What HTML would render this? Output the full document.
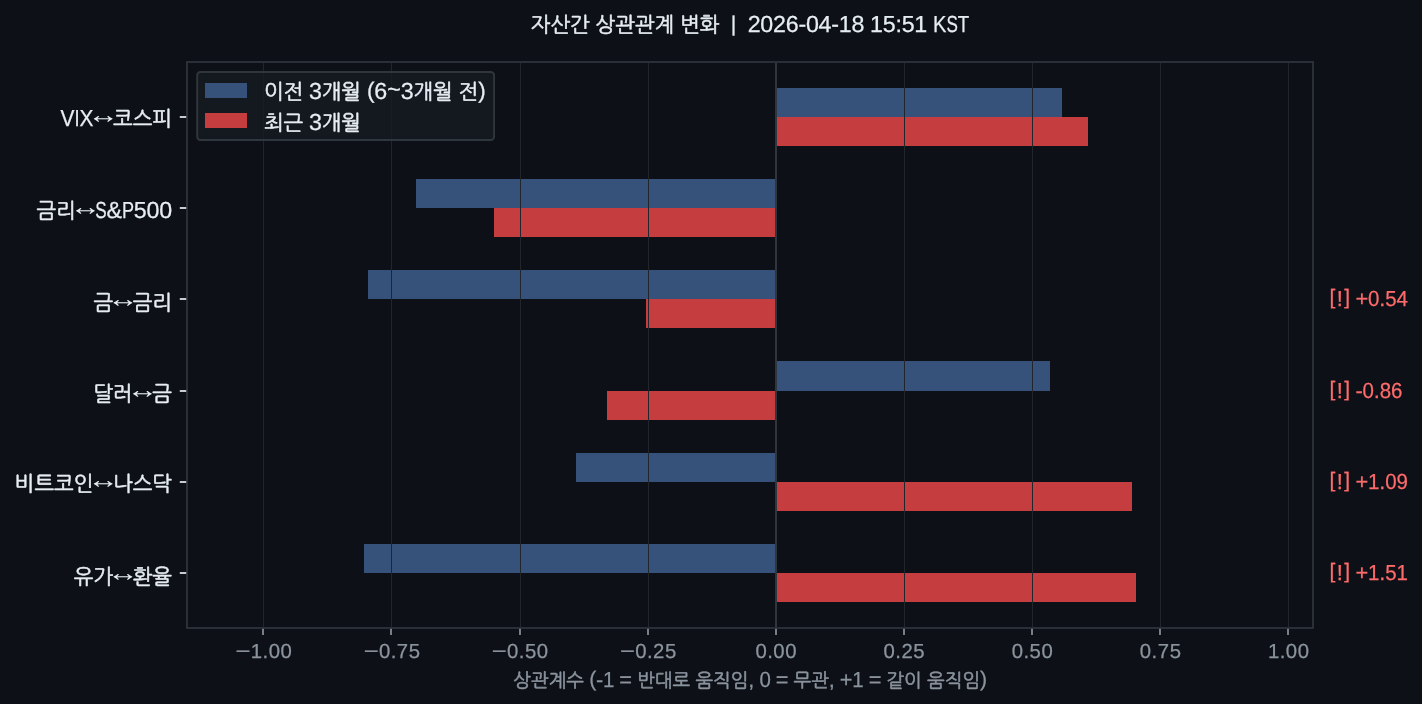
<!DOCTYPE html>
<html lang="ko">
<head>
<meta charset="utf-8">
<title>자산간 상관관계 변화</title>
<style>
html,body{margin:0;padding:0;background:#0d1117;overflow:hidden}
svg{display:block}
text{white-space:pre}
.h{stroke:currentColor;stroke-width:0.55px}
.a{text-rendering:geometricPrecision}
.t{stroke:currentColor;stroke-width:0.25px;text-rendering:geometricPrecision}
.k{font-family:"Liberation Sans", "NanumGothic", sans-serif}
.l{font-family:"Liberation Sans", "DejaVu Sans", sans-serif}
</style>
</head>
<body>
<svg width="1422" height="704" viewBox="0 0 1422 704">
<rect width="1422" height="704" fill="#0d1117"/>
<g>
<rect x="776" y="88" width="286" height="29" fill="#36527a"/>
<rect x="776" y="117" width="312" height="29" fill="#c53d3f"/>
<rect x="416" y="179" width="360" height="29" fill="#36527a"/>
<rect x="494" y="208" width="282" height="29" fill="#c53d3f"/>
<rect x="368" y="270" width="408" height="29" fill="#36527a"/>
<rect x="646" y="299" width="130" height="29" fill="#c53d3f"/>
<rect x="776" y="361" width="274" height="30" fill="#36527a"/>
<rect x="607" y="391" width="169" height="29" fill="#c53d3f"/>
<rect x="576" y="453" width="200" height="29" fill="#36527a"/>
<rect x="776" y="482" width="356" height="29" fill="#c53d3f"/>
<rect x="364" y="544" width="412" height="29" fill="#36527a"/>
<rect x="776" y="573" width="360" height="29" fill="#c53d3f"/>
</g>
<g fill="#21262d">
<rect x="263" y="63" width="1" height="564"/>
<rect x="391" y="63" width="1" height="564"/>
<rect x="520" y="63" width="1" height="564"/>
<rect x="648" y="63" width="1" height="564"/>
<rect x="904" y="63" width="1" height="564"/>
<rect x="1032" y="63" width="1" height="564"/>
<rect x="1160" y="63" width="1" height="564"/>
<rect x="1288" y="63" width="1" height="564"/>
</g>
<rect x="775" y="63" width="2" height="564" fill="#30363d"/>
<rect x="197.2" y="72" width="296.85" height="68.05" rx="3.2" fill="#161b22" fill-opacity="0.8" stroke="#30363d" stroke-width="1.9"/>
<rect x="205" y="83" width="42" height="15" fill="#36527a"/>
<rect x="205" y="113" width="42" height="15" fill="#c53d3f"/>
<text class="k" y="99" font-size="20.9" fill="#e6edf3" color="#e6edf3"><tspan class="h" x="263.9 283.55" y="99">이전</tspan> <tspan class="t" x="308.91" y="99" font-size="23.25">3</tspan><tspan class="h" x="321.71 341.36" y="99">개월</tspan> <tspan class="t" x="366.89" y="97.54" font-size="22.55">(</tspan><tspan class="t" x="374.31" y="99" font-size="23.25">6</tspan><tspan class="t" x="387.15" y="96.7" font-size="23.25">~</tspan><tspan class="t" x="400.64" y="99" font-size="23.25">3</tspan><tspan class="h" x="413.44 433.09" y="99">개월</tspan> <tspan class="h" x="458.58" y="99">전</tspan><tspan class="t" x="478.27" y="97.54" font-size="22.55">)</tspan></text>
<text class="k" y="130" font-size="20.9" fill="#e6edf3" color="#e6edf3"><tspan class="h" x="263.9 283.55" y="130">최근</tspan> <tspan class="t" x="308.91" y="130" font-size="23.25">3</tspan><tspan class="h" x="321.71 341.36" y="130">개월</tspan></text>
<rect x="187" y="62" width="1126" height="566" fill="none" stroke="#30363d" stroke-width="1.7"/>
<g fill="#8b949e">
<rect x="262.15" y="628.8" width="1.7" height="6.2"/>
<rect x="390.15" y="628.8" width="1.7" height="6.2"/>
<rect x="519.15" y="628.8" width="1.7" height="6.2"/>
<rect x="647.15" y="628.8" width="1.7" height="6.2"/>
<rect x="775.15" y="628.8" width="1.7" height="6.2"/>
<rect x="903.15" y="628.8" width="1.7" height="6.2"/>
<rect x="1031.15" y="628.8" width="1.7" height="6.2"/>
<rect x="1159.15" y="628.8" width="1.7" height="6.2"/>
<rect x="1287.15" y="628.8" width="1.7" height="6.2"/>
</g>
<g fill="#e6edf3">
<rect x="179.8" y="116.15" width="6.4" height="1.7"/>
<rect x="179.8" y="207.15" width="6.4" height="1.7"/>
<rect x="179.8" y="298.15" width="6.4" height="1.7"/>
<rect x="179.8" y="390.15" width="6.4" height="1.7"/>
<rect x="179.8" y="481.15" width="6.4" height="1.7"/>
<rect x="179.8" y="572.15" width="6.4" height="1.7"/>
</g>
<text class="l" y="658" font-size="18.75" fill="#8b949e" color="#8b949e"><tspan class="t" x="235.57" y="658" font-size="20.34" textLength="14.97" lengthAdjust="spacingAndGlyphs">−</tspan><tspan class="t" x="250.79 262.56 268.68 280.61" y="658" font-size="20.34">1.00</tspan></text>
<text class="l" y="658" font-size="18.75" fill="#8b949e" color="#8b949e"><tspan class="t" x="363.67" y="658" font-size="20.34" textLength="14.97" lengthAdjust="spacingAndGlyphs">−</tspan><tspan class="t" x="378.89 390.66 396.78 408.71" y="658" font-size="20.34">0.75</tspan></text>
<text class="l" y="658" font-size="18.75" fill="#8b949e" color="#8b949e"><tspan class="t" x="491.82" y="658" font-size="20.34" textLength="14.97" lengthAdjust="spacingAndGlyphs">−</tspan><tspan class="t" x="507.04 518.81 524.93 536.86" y="658" font-size="20.34">0.50</tspan></text>
<text class="l" y="658" font-size="18.75" fill="#8b949e" color="#8b949e"><tspan class="t" x="619.97" y="658" font-size="20.34" textLength="14.97" lengthAdjust="spacingAndGlyphs">−</tspan><tspan class="t" x="635.19 646.96 653.08 665.01" y="658" font-size="20.34">0.25</tspan></text>
<text class="l" y="658" font-size="18.75" fill="#8b949e" color="#8b949e"><tspan class="t" x="755.43 767.21 773.32 785.25" y="658" font-size="20.34">0.00</tspan></text>
<text class="l" y="658" font-size="18.75" fill="#8b949e" color="#8b949e"><tspan class="t" x="883.53 895.31 901.42 913.35" y="658" font-size="20.34">0.25</tspan></text>
<text class="l" y="658" font-size="18.75" fill="#8b949e" color="#8b949e"><tspan class="t" x="1011.68 1023.46 1029.57 1041.5" y="658" font-size="20.34">0.50</tspan></text>
<text class="l" y="658" font-size="18.75" fill="#8b949e" color="#8b949e"><tspan class="t" x="1139.83 1151.61 1157.72 1169.65" y="658" font-size="20.34">0.75</tspan></text>
<text class="l" y="658" font-size="18.75" fill="#8b949e" color="#8b949e"><tspan class="t" x="1267.93 1279.71 1285.82 1297.75" y="658" font-size="20.34">1.00</tspan></text>
<text class="k" y="126" font-size="20.9" fill="#e6edf3" color="#e6edf3"><tspan class="t" x="60.52" y="126" font-size="23.25" textLength="13.92" lengthAdjust="spacingAndGlyphs">V</tspan><tspan class="t" x="74.44" y="126" font-size="23.25" textLength="5.06" lengthAdjust="spacingAndGlyphs">I</tspan><tspan class="t" x="79.5" y="126" font-size="23.25" textLength="13.92" lengthAdjust="spacingAndGlyphs">X</tspan><tspan class="a" x="87.56" y="122.67" font-size="25.08" textLength="31.35" lengthAdjust="spacingAndGlyphs">↔</tspan><tspan class="h" x="113.06 132.71 152.35" y="126">코스피</tspan></text>
<text class="k" y="218" font-size="20.9" fill="#e6edf3" color="#e6edf3"><tspan class="h" x="36.42 56.07" y="218">금리</tspan><tspan class="a" x="69.86" y="214.67" font-size="25.08" textLength="31.35" lengthAdjust="spacingAndGlyphs">↔</tspan><tspan class="t" x="95.36" y="218" font-size="23.25" textLength="11.39" lengthAdjust="spacingAndGlyphs">S</tspan><tspan class="t" x="106.59" y="218" font-size="23.25">&amp;</tspan><tspan class="t" x="121.94" y="218" font-size="23.25" textLength="12.06" lengthAdjust="spacingAndGlyphs">P</tspan><tspan class="t" x="133.87 146.54 159.2" y="218" font-size="23.25">500</tspan></text>
<text class="k" y="310" font-size="20.9" fill="#e6edf3" color="#e6edf3"><tspan class="h" x="93.42" y="310">금</tspan><tspan class="a" x="107.21" y="306.67" font-size="25.08" textLength="31.35" lengthAdjust="spacingAndGlyphs">↔</tspan><tspan class="h" x="132.71 152.35" y="310">금리</tspan></text>
<text class="k" y="401" font-size="20.9" fill="#e6edf3" color="#e6edf3"><tspan class="h" x="93.42 113.06" y="401">달러</tspan><tspan class="a" x="126.86" y="397.67" font-size="25.08" textLength="31.35" lengthAdjust="spacingAndGlyphs">↔</tspan><tspan class="h" x="152.35" y="401">금</tspan></text>
<text class="k" y="491" font-size="20.9" fill="#e6edf3" color="#e6edf3"><tspan class="h" x="14.83 34.48 54.12 73.77" y="491">비트코인</tspan><tspan class="a" x="87.56" y="487.67" font-size="25.08" textLength="31.35" lengthAdjust="spacingAndGlyphs">↔</tspan><tspan class="h" x="113.06 132.71 152.35" y="491">나스닥</tspan></text>
<text class="k" y="584" font-size="20.9" fill="#e6edf3" color="#e6edf3"><tspan class="h" x="73.77 93.42" y="584">유가</tspan><tspan class="a" x="107.21" y="580.67" font-size="25.08" textLength="31.35" lengthAdjust="spacingAndGlyphs">↔</tspan><tspan class="h" x="132.71 152.35" y="584">환율</tspan></text>
<text class="k" y="306" font-size="18.8" fill="#ff6b6b" color="#ff6b6b"><tspan class="t" x="1329.4" y="304.31" font-size="20.94">[</tspan><tspan class="t" x="1336.68" y="306" font-size="21.81">!</tspan><tspan class="t" x="1344.2" y="304.31" font-size="20.94">]</tspan> <tspan class="t" x="1355.56" y="306" font-size="21.81">+</tspan><tspan class="t" x="1368.08" y="306" font-size="21.81" textLength="11.39" lengthAdjust="spacingAndGlyphs">0</tspan><tspan class="t" x="1379.29" y="306" font-size="21.81">.</tspan><tspan class="t" x="1385.17" y="306" font-size="21.81" textLength="11.39" lengthAdjust="spacingAndGlyphs">5</tspan><tspan class="t" x="1396.56" y="306" font-size="21.81" textLength="11.39" lengthAdjust="spacingAndGlyphs">4</tspan></text>
<text class="k" y="398" font-size="18.8" fill="#ff6b6b" color="#ff6b6b"><tspan class="t" x="1329.4" y="396.31" font-size="20.94">[</tspan><tspan class="t" x="1336.68" y="398" font-size="21.81">!</tspan><tspan class="t" x="1344.2" y="396.31" font-size="20.94">]</tspan> <tspan class="t" x="1355.57" y="398" font-size="21.81">-</tspan><tspan class="t" x="1362.61" y="398" font-size="21.81" textLength="11.39" lengthAdjust="spacingAndGlyphs">0</tspan><tspan class="t" x="1373.82" y="398" font-size="21.81">.</tspan><tspan class="t" x="1379.7" y="398" font-size="21.81" textLength="11.39" lengthAdjust="spacingAndGlyphs">8</tspan><tspan class="t" x="1391.09" y="398" font-size="21.81" textLength="11.39" lengthAdjust="spacingAndGlyphs">6</tspan></text>
<text class="k" y="489" font-size="18.8" fill="#ff6b6b" color="#ff6b6b"><tspan class="t" x="1329.4" y="487.31" font-size="20.94">[</tspan><tspan class="t" x="1336.68" y="489" font-size="21.81">!</tspan><tspan class="t" x="1344.2" y="487.31" font-size="20.94">]</tspan> <tspan class="t" x="1355.56" y="489" font-size="21.81">+</tspan><tspan class="t" x="1368.08" y="489" font-size="21.81" textLength="11.39" lengthAdjust="spacingAndGlyphs">1</tspan><tspan class="t" x="1379.29" y="489" font-size="21.81">.</tspan><tspan class="t" x="1385.17" y="489" font-size="21.81" textLength="11.39" lengthAdjust="spacingAndGlyphs">0</tspan><tspan class="t" x="1396.56" y="489" font-size="21.81" textLength="11.39" lengthAdjust="spacingAndGlyphs">9</tspan></text>
<text class="k" y="580" font-size="18.8" fill="#ff6b6b" color="#ff6b6b"><tspan class="t" x="1329.4" y="578.31" font-size="20.94">[</tspan><tspan class="t" x="1336.68" y="580" font-size="21.81">!</tspan><tspan class="t" x="1344.2" y="578.31" font-size="20.94">]</tspan> <tspan class="t" x="1355.56" y="580" font-size="21.81">+</tspan><tspan class="t" x="1368.08" y="580" font-size="21.81" textLength="11.39" lengthAdjust="spacingAndGlyphs">1</tspan><tspan class="t" x="1379.29" y="580" font-size="21.81">.</tspan><tspan class="t" x="1385.17" y="580" font-size="21.81" textLength="11.39" lengthAdjust="spacingAndGlyphs">5</tspan><tspan class="t" x="1396.56" y="580" font-size="21.81" textLength="11.39" lengthAdjust="spacingAndGlyphs">1</tspan></text>
<text class="k" y="32" font-size="20.9" fill="#e6edf3" color="#e6edf3"><tspan class="h" x="530.82 550.47 570.11" y="32">자산간</tspan> <tspan class="h" x="595.61 615.26 634.9 654.55" y="32">상관관계</tspan> <tspan class="h" x="680.05 699.69" y="32">변화</tspan>  <tspan class="t" x="730.79" y="30.68" font-size="21.39">|</tspan>  <tspan class="t" x="747.67 760.34 773 785.67 798.39 805.92 818.59 831.31 838.84 851.5" y="32" font-size="23.25">2026-04-18</tspan> <tspan class="t" x="870.02 882.69 895.42 901.69 914.35" y="32" font-size="23.25">15:51</tspan> <tspan class="t" x="933" y="32" font-size="23.25" textLength="13.4" lengthAdjust="spacingAndGlyphs">K</tspan><tspan class="t" x="946.4" y="32" font-size="23.25" textLength="11.39" lengthAdjust="spacingAndGlyphs">S</tspan><tspan class="t" x="957.79" y="32" font-size="23.25" textLength="11.39" lengthAdjust="spacingAndGlyphs">T</tspan></text>
<text class="k" y="687" font-size="18.8" fill="#8b949e" color="#8b949e"><tspan class="h" x="513.32 531 548.67 566.34" y="687">상관계수</tspan> <tspan class="t" x="589.17" y="685.68" font-size="21.15">(</tspan><tspan class="t" x="595.88" y="687" font-size="21.81">-</tspan><tspan class="t" x="602.92" y="687" font-size="21.81" textLength="11.39" lengthAdjust="spacingAndGlyphs">1</tspan> <tspan class="t" x="619.36" y="687" font-size="21.81">=</tspan> <tspan class="h" x="637.14 654.81 672.48" y="687">반대로</tspan> <tspan class="h" x="695.42 713.09 730.76" y="687">움직임</tspan><tspan class="t" x="748.25" y="687" font-size="21.81">,</tspan> <tspan class="t" x="759.4" y="687" font-size="21.81" textLength="11.39" lengthAdjust="spacingAndGlyphs">0</tspan> <tspan class="t" x="775.83" y="687" font-size="21.81">=</tspan> <tspan class="h" x="793.61 811.28" y="687">무관</tspan><tspan class="t" x="828.78" y="687" font-size="21.81">,</tspan> <tspan class="t" x="839.7" y="687" font-size="21.81">+</tspan><tspan class="t" x="852.21" y="687" font-size="21.81" textLength="11.39" lengthAdjust="spacingAndGlyphs">1</tspan> <tspan class="t" x="868.65" y="687" font-size="21.81">=</tspan> <tspan class="h" x="886.43 904.1" y="687">같이</tspan> <tspan class="h" x="927.04 944.71 962.38" y="687">움직임</tspan><tspan class="t" x="979.94" y="685.68" font-size="21.15">)</tspan></text>
</svg>
</body>
</html>
